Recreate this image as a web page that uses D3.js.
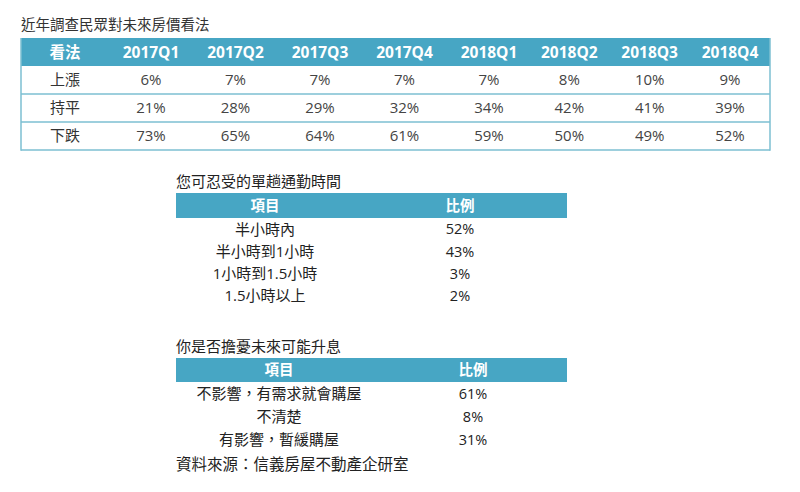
<!DOCTYPE html>
<html lang="zh-Hant">
<head>
<meta charset="utf-8">
<script src="https://cdn.jsdelivr.net/npm/d3@7"></script>
<style>
  body { margin: 0; background: #fff; }
  text { font-family: "Open Sans", "Noto Sans CJK TC", sans-serif; }
  text.cjk { font-family: "Noto Sans CJK TC", sans-serif; font-feature-settings: "locl" 1; }
</style>
</head>
<body>
<svg width="800" height="492" lang="zh-Hant"></svg>
<script>
// table 1: 近年調查民眾對未來房價看法
const quarters = ['2017Q1', '2017Q2', '2017Q3', '2017Q4', '2018Q1', '2018Q2', '2018Q3', '2018Q4'];
const views = ['上漲', '持平', '下跌'];
const upVals = [6, 7, 7, 7, 7, 8, 10, 9];
const flatVals = [21, 28, 29, 32, 34, 42, 41, 39];
const downVals = [73, 65, 64, 61, 59, 50, 49, 52];

// table 2: 您可忍受的單趟通勤時間
const commuteItems = ['半小時內', '半小時到1小時', '1小時到1.5小時', '1.5小時以上'];
const commuteVals = [52, 43, 3, 2];

// table 3: 你是否擔憂未來可能升息
const rateItems = ['不影響，有需求就會購屋', '不清楚', '有影響，暫緩購屋'];
const rateVals = [61, 8, 31];

const headColor = '#47a6c4';
const lineColor = '#7cbfd2';
const textColor = '#333';

const svg = d3.select('svg');
svg.append('rect').attr('width', 800).attr('height', 492).attr('fill', '#fff');

// ---------- table 1 ----------
const t1 = { left: 21, right: 770, top: 38, bottom: 150 };
const valRows = [upVals, flatVals, downVals];

svg.append('text')
    .attr('x', t1.left).attr('y', 25).attr('dy', '0.36em')
    .attr('font-size', 14.5).attr('fill', textColor)
    .text('近年調查民眾對未來房價看法');

const y1 = d3.scaleBand()
    .domain(['head'].concat(views))
    .range([t1.top, t1.bottom]);

// uneven column spacing in the original, so a piecewise scale
const x1 = d3.scaleLinear()
    .domain([0, 4, 7])
    .range([151, 489, 730]);

svg.append('rect')
    .attr('x', t1.left).attr('y', y1('head'))
    .attr('width', t1.right - t1.left).attr('height', y1.bandwidth())
    .attr('fill', headColor);

// row lines + side borders
svg.selectAll('.rowline')
    .data(views)
    .join('line')
    .attr('x1', t1.left).attr('x2', t1.right)
    .attr('y1', d => y1(d) + y1.bandwidth())
    .attr('y2', d => y1(d) + y1.bandwidth())
    .attr('stroke', lineColor).attr('stroke-width', 1.5);

[t1.left, t1.right].forEach(x => {
    svg.append('line')
        .attr('x1', x).attr('x2', x)
        .attr('y1', t1.top).attr('y2', t1.bottom + 0.75)
        .attr('stroke', lineColor).attr('stroke-width', 1.5);
});

const headRow = svg.append('g').attr('font-weight', 'bold').attr('font-size', 15.5).attr('fill', '#fff')
    .attr('text-anchor', 'middle');
headRow.append('text')
    .attr('x', 65).attr('y', y1('head') + y1.bandwidth() / 2).attr('dy', '0.36em')
    .text('看法');
headRow.selectAll('.q')
    .data(quarters)
    .join('text')
    .attr('x', (d, i) => x1(i))
    .attr('y', y1('head') + y1.bandwidth() / 2).attr('dy', '0.36em')
    .text(d => d);

views.forEach((v, r) => {
    const yc = y1(v) + y1.bandwidth() / 2;
    svg.append('text')
        .attr('x', 65).attr('y', yc).attr('dy', '0.36em')
        .attr('text-anchor', 'middle').attr('font-size', 15).attr('fill', textColor)
        .text(v);
    svg.append('g').selectAll('text')
        .data(valRows[r])
        .join('text')
        .attr('x', (d, i) => x1(i))
        .attr('y', yc).attr('dy', '0.36em')
        .attr('text-anchor', 'middle').attr('font-size', 15).attr('fill', '#444')
        .text(d => d + '%');
});

// ---------- small tables ----------
function smallTable(opts) {
    const { title, titleY, headTop, headH, rowStep, items, vals, itemX, valX } = opts;
    const left = 176, right = 567;

    svg.append('text')
        .attr('x', left).attr('y', titleY).attr('dy', '0.36em')
        .attr('font-size', 15).attr('fill', '#222')
        .text(title);

    svg.append('rect')
        .attr('x', left).attr('y', headTop)
        .attr('width', right - left).attr('height', headH)
        .attr('fill', headColor);

    const hg = svg.append('g').attr('font-weight', 'bold').attr('font-size', 14.5)
        .attr('fill', '#fff').attr('text-anchor', 'middle');
    hg.append('text').attr('x', itemX).attr('y', headTop + headH / 2).attr('dy', '0.36em').text('項目');
    hg.append('text').attr('x', valX).attr('y', headTop + headH / 2).attr('dy', '0.36em').text('比例');

    const y = d3.scaleBand()
        .domain(items)
        .range([headTop + headH, headTop + headH + rowStep * items.length]);

    svg.append('g').selectAll('text')
        .data(items)
        .join('text')
        .attr('class', d => d.includes('，') ? 'cjk' : null)
        .attr('lang', 'zh-Hant')
        .attr('x', itemX)
        .attr('y', d => y(d) + y.bandwidth() / 2).attr('dy', '0.36em')
        .attr('text-anchor', 'middle').attr('font-size', 15).attr('fill', '#222')
        .text(d => d);

    svg.append('g').selectAll('text')
        .data(vals)
        .join('text')
        .attr('x', valX)
        .attr('y', (d, i) => y(items[i]) + y.bandwidth() / 2).attr('dy', '0.36em')
        .attr('text-anchor', 'middle').attr('font-size', 14.5).attr('fill', '#222')
        .text(d => d + '%');
}

smallTable({
    title: '您可忍受的單趟通勤時間', titleY: 182,
    headTop: 193, headH: 25, rowStep: 22.3,
    items: commuteItems, vals: commuteVals, itemX: 265, valX: 460
});

smallTable({
    title: '你是否擔憂未來可能升息', titleY: 347,
    headTop: 358, headH: 24, rowStep: 23,
    items: rateItems, vals: rateVals, itemX: 279, valX: 473
});

svg.append('text')
    .attr('class', 'cjk')
    .attr('lang', 'zh-Hant')
    .attr('x', 176).attr('y', 464).attr('dy', '0.36em')
    .attr('font-size', 15.5).attr('fill', '#222')
    .text('資料來源：信義房屋不動產企研室');
</script>
</body>
</html>
